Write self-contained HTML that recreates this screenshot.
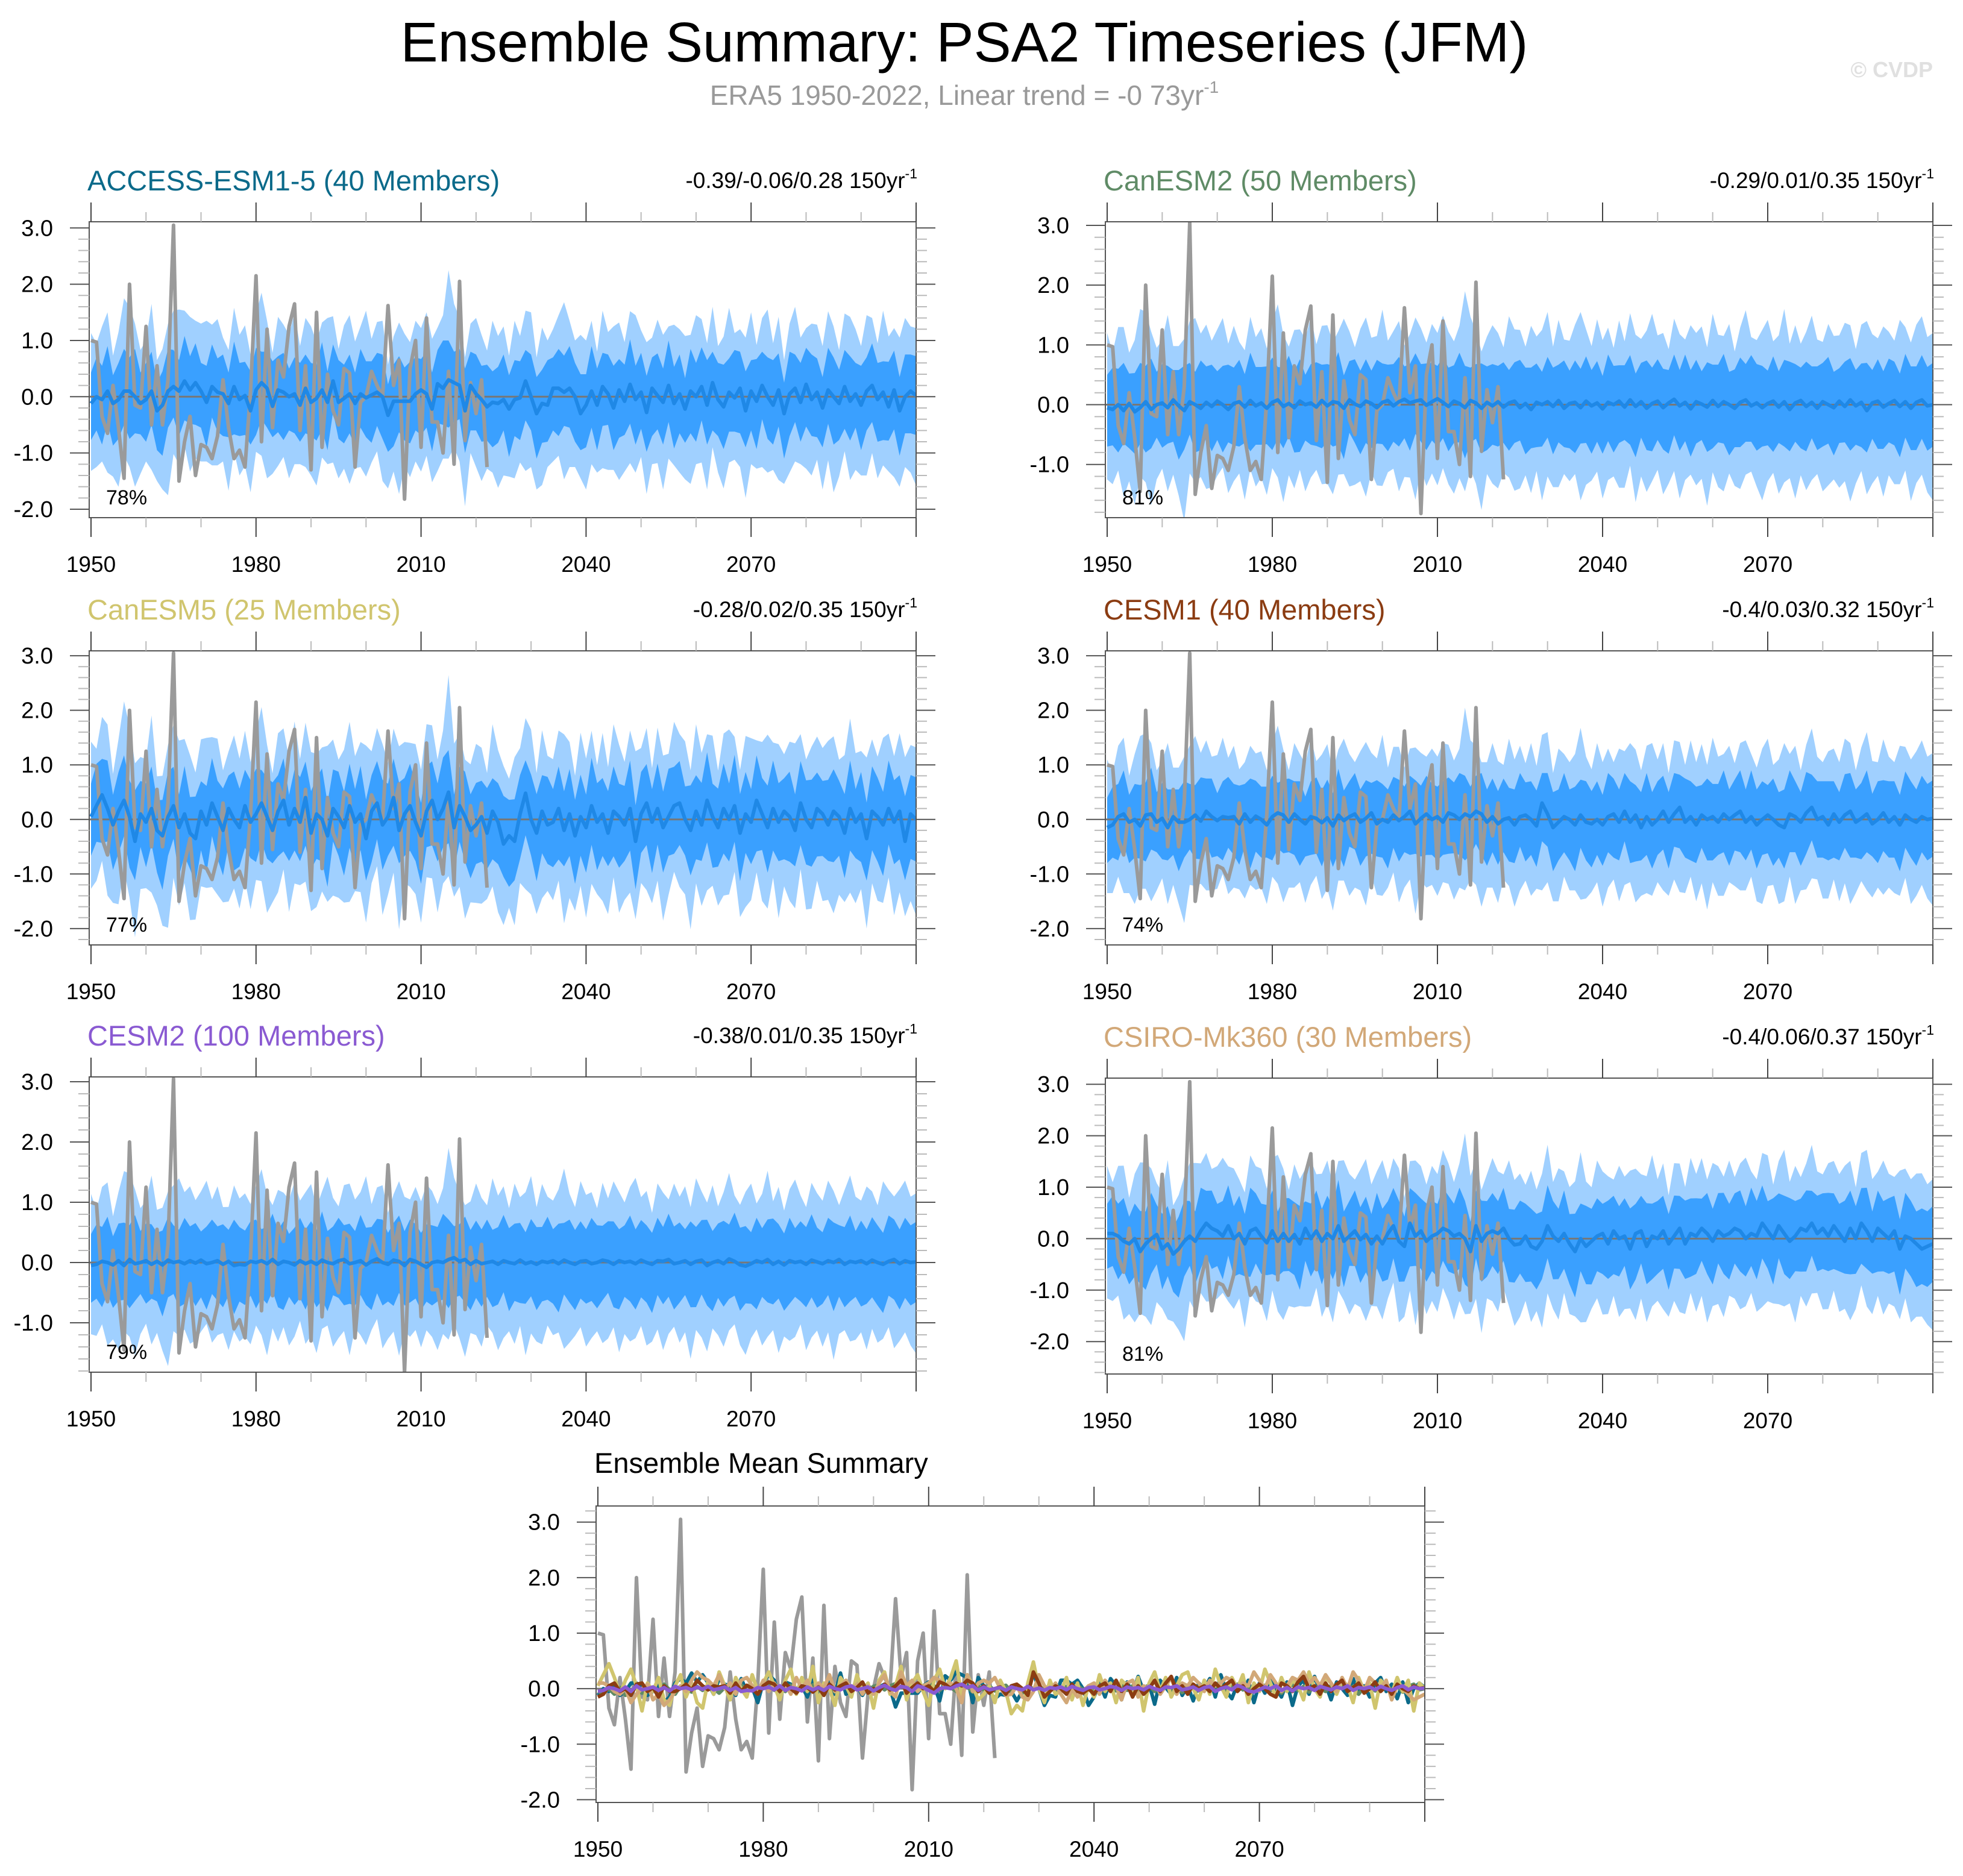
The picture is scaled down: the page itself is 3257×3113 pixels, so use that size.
<!DOCTYPE html>
<html><head><meta charset="utf-8"><title>Ensemble Summary: PSA2 Timeseries (JFM)</title>
<style>
html,body{margin:0;padding:0;background:#fff;}
svg{display:block;font-family:"Liberation Sans",Arial,sans-serif;}
</style></head>
<body>
<svg id="chart" width="3257" height="3113" viewBox="0 0 3257 3113" xmlns="http://www.w3.org/2000/svg">
<rect x="0" y="0" width="3257" height="3113" fill="#fff"/>
<text x="1600" y="102" font-size="93" text-anchor="middle" fill="#000">Ensemble Summary: PSA2 Timeseries (JFM)</text>
<text x="1600" y="174" font-size="46" text-anchor="middle" fill="#999">ERA5 1950-2022, Linear trend = -0 73yr<tspan font-size="28" dy="-20">-1</tspan></text>
<text x="3207" y="128" font-size="36" font-weight="bold" text-anchor="end" fill="#e0e0e0">© CVDP</text>
<g id="panels"></g>
</svg>
<script>
const years0 = 1950;
const obsValues = [1.0,0.97,-0.35,-0.65,0.2,-0.55,-1.45,2.0,-0.15,-0.2,
1.25,-0.5,0.55,-0.5,0.3,3.05,-1.5,-0.8,-0.35,-1.4,
-0.85,-0.9,-1.1,-0.7,0.3,-0.55,-1.1,-0.95,-1.25,0.1,
2.15,-0.8,1.2,-0.55,0.65,0.35,1.25,1.65,-0.6,0.55,
-1.3,1.5,-0.9,0.4,-0.25,-0.5,0.5,0.42,-1.25,-0.1,
0.0,0.45,0.2,0.0,1.62,0.2,0.65,-1.82,0.5,1.0,
-0.9,1.4,-0.45,-0.45,-1.0,0.45,-1.2,2.05,-0.78,0.25,
-0.3,0.3,-1.25];

const outerHi = [1.25,0.95,1.30,1.40,0.85,1.20,1.65,1.50,1.30,0.95,
1.05,1.55,0.90,1.00,1.20,1.35,1.45,1.25,1.30,1.10,
1.20,1.45,1.10,1.30,1.00,0.95,1.40,1.15,1.25,1.00,
1.35,1.60,1.20,0.95,1.30,1.20,1.10,1.45,1.05,1.25,
1.35,1.00,1.20,1.50,1.15,0.95,1.30,1.40,1.10,1.20,
1.55,1.00,1.25,1.35,0.90,1.15,1.40,1.20,1.05,1.30,
1.10,1.45,1.25,1.00,1.30,1.95,1.40,1.20,0.95,1.10,
1.35,1.15,1.00,1.45,1.20,1.30,0.95,1.40,1.10,1.25,
1.50,1.00,1.35,1.15,1.05,1.30,1.60,1.20,1.00,1.40,
1.15,1.25,0.95,1.35,1.10,1.45,1.20,1.05,1.30,1.50,
1.10,1.25,0.90,1.35,1.20,1.05,1.40,1.15,1.30,1.00,
1.45,1.20,1.10,1.35,0.95,1.25,1.50,1.15,1.05,1.30,
1.40,1.00,1.20,1.55,1.10,1.30,0.95,1.25,1.45,1.15,
1.00,1.35,1.20,1.10,1.40,1.25,0.95,1.30,1.50,1.15,
1.05,1.35,1.20,1.00,1.45,1.25,1.10,1.30,1.40,1.15,1.20];
const outerLo = [1.20,1.25,1.10,1.45,1.30,1.55,1.15,1.35,1.60,1.25,
1.10,1.40,1.25,1.50,1.85,1.20,1.30,1.15,1.45,1.35,
1.25,1.05,1.40,1.30,1.20,1.55,1.15,1.35,1.25,1.45,
1.10,1.30,1.60,1.20,1.35,1.15,1.45,1.25,1.05,1.40,
1.30,1.55,1.20,1.10,1.45,1.35,1.25,1.60,1.15,1.30,
1.40,1.20,1.05,1.50,1.30,1.25,1.65,1.15,1.35,1.20,
1.45,1.10,1.30,1.55,1.25,1.40,1.15,1.35,1.70,1.20,
1.30,1.45,1.10,1.25,1.50,1.35,1.20,1.40,1.15,1.60,
1.25,1.35,1.45,1.10,1.30,1.20,1.55,1.40,1.25,1.15,
1.50,1.30,1.20,1.45,1.35,1.10,1.60,1.25,1.40,1.30,
1.15,1.45,1.35,1.20,1.55,1.30,1.10,1.40,1.25,1.65,
1.20,1.35,1.50,1.15,1.30,1.45,1.25,1.10,1.40,1.55,
1.30,1.20,1.45,1.35,1.15,1.60,1.25,1.40,1.30,1.10,
1.50,1.35,1.20,1.45,1.25,1.70,1.30,1.15,1.40,1.35,
1.25,1.50,1.20,1.40,1.30,1.15,1.55,1.35,1.25,1.45,1.60];
const innerHi = [0.55,0.70,0.60,0.80,0.50,0.65,0.75,0.60,0.85,0.55,
0.65,0.70,0.50,0.60,0.75,0.65,0.55,0.80,0.60,0.70,
0.50,0.65,0.75,0.60,0.70,0.55,0.80,0.65,0.60,0.70,
0.75,0.55,0.65,0.80,0.60,0.70,0.50,0.65,0.75,0.60,
0.70,0.60,0.85,0.55,0.65,0.75,0.60,0.70,0.55,0.80,
0.65,0.60,0.70,0.75,0.55,0.65,0.80,0.60,0.70,0.65,
0.55,0.75,0.65,0.60,0.85,0.70,0.55,0.65,0.75,0.60,
0.70,0.60,0.75,0.55,0.65,0.80,0.60,0.70,0.65,0.55,
0.75,0.65,0.60,0.80,0.55,0.70,0.65,0.75,0.60,0.70,
0.55,0.80,0.65,0.60,0.70,0.75,0.55,0.65,0.80,0.60,
0.70,0.65,0.55,0.75,0.60,0.80,0.65,0.70,0.55,0.75,
0.60,0.70,0.80,0.55,0.65,0.75,0.60,0.85,0.65,0.70,
0.55,0.75,0.60,0.70,0.80,0.65,0.55,0.75,0.60,0.70,
0.65,0.80,0.60,0.55,0.75,0.70,0.60,0.65,0.80,0.55,
0.70,0.60,0.75,0.65,0.55,0.80,0.70,0.60,0.75,0.65,0.70];
const innerLo = [0.65,0.60,0.80,0.55,0.75,0.70,0.60,0.85,0.65,0.55,
0.75,0.60,0.70,0.90,0.65,0.55,0.80,0.70,0.60,0.75,
0.65,0.80,0.55,0.70,0.75,0.60,0.85,0.65,0.70,0.60,
0.80,0.65,0.70,0.55,0.75,0.85,0.60,0.70,0.65,0.80,
0.60,0.75,0.70,0.85,0.55,0.65,0.80,0.70,0.75,0.60,
0.70,0.85,0.60,0.75,0.65,0.80,0.55,0.70,0.75,0.65,
0.80,0.60,0.75,0.70,0.65,0.85,0.70,0.60,0.75,0.80,
0.65,0.75,0.60,0.80,0.70,0.55,0.85,0.65,0.75,0.70,
0.60,0.80,0.70,0.65,0.75,0.85,0.60,0.70,0.80,0.65,
0.75,0.65,0.80,0.70,0.55,0.75,0.85,0.60,0.70,0.80,
0.65,0.70,0.85,0.60,0.75,0.65,0.80,0.70,0.60,0.75,
0.80,0.60,0.70,0.85,0.65,0.75,0.70,0.60,0.80,0.65,
0.70,0.85,0.60,0.75,0.70,0.65,0.80,0.75,0.60,0.70,
0.75,0.65,0.80,0.70,0.60,0.85,0.65,0.75,0.70,0.60,
0.80,0.70,0.65,0.75,0.85,0.60,0.70,0.80,0.65,0.75,0.70];

const accessMean = [-0.12,0.00,-0.05,0.10,-0.12,-0.05,0.10,0.10,0.00,-0.12,
-0.05,0.10,-0.25,-0.15,0.10,0.18,0.10,0.28,0.12,0.25,
0.10,-0.10,0.18,0.08,0.05,-0.12,0.18,-0.05,0.02,-0.25,
0.12,0.25,0.15,-0.17,0.12,0.08,0.00,0.05,-0.15,0.15,
-0.10,-0.03,0.12,-0.10,0.28,-0.10,-0.03,0.05,-0.12,0.05,
-0.02,0.03,0.08,0.00,-0.33,-0.08,-0.08,-0.08,-0.08,0.05,
0.12,0.05,-0.22,0.23,0.15,0.30,0.25,0.20,-0.25,0.20,
0.05,-0.05,-0.18,-0.10,-0.12,-0.05,-0.22,-0.05,-0.02,0.28,
0.00,-0.30,-0.12,-0.15,0.15,0.15,0.08,0.15,0.00,-0.30,
-0.15,0.10,-0.15,0.18,0.05,-0.20,0.12,-0.08,0.22,-0.05,
0.08,-0.28,0.15,0.02,-0.10,0.20,-0.12,0.05,-0.22,0.10,
0.00,0.18,-0.15,0.25,-0.05,-0.18,0.08,-0.02,0.15,-0.25,
0.10,-0.08,0.20,0.00,-0.15,0.12,-0.30,0.05,0.15,-0.10,
0.22,-0.05,0.08,-0.20,0.12,0.00,-0.12,0.18,-0.08,0.05,
-0.15,0.10,0.20,-0.05,0.08,-0.18,0.12,-0.25,0.00,0.10,0.02];
const canesm2Mean = [-0.05,-0.08,0.00,-0.10,0.02,-0.12,-0.05,0.05,-0.08,0.00,
0.03,-0.05,0.08,-0.02,-0.10,0.05,0.00,-0.06,0.04,-0.03,
0.06,0.00,-0.08,0.02,0.05,-0.04,0.07,-0.02,0.03,-0.06,
0.04,0.08,-0.03,0.02,-0.05,0.06,0.00,0.03,-0.04,0.07,
-0.02,0.05,0.03,-0.06,0.08,0.01,-0.03,0.06,0.02,-0.05,
0.04,0.07,-0.02,0.05,0.09,0.03,0.06,0.08,-0.01,0.05,
0.10,0.04,-0.03,0.06,0.02,-0.05,0.07,0.03,-0.06,0.04,
-0.02,0.05,-0.04,0.03,0.06,-0.05,0.02,-0.08,0.04,0.00,
0.05,-0.03,0.07,-0.06,0.02,0.04,-0.05,0.06,-0.02,0.03,
-0.07,0.04,0.00,0.06,-0.04,0.08,-0.03,0.05,-0.06,0.02,
0.06,-0.05,0.03,0.09,-0.02,0.04,-0.07,0.05,0.01,-0.04,
0.07,-0.03,0.05,0.00,-0.06,0.04,0.08,-0.02,0.03,-0.05,
0.02,0.06,-0.04,0.05,-0.08,0.03,0.07,-0.03,0.04,-0.06,
0.05,0.00,-0.05,0.06,-0.03,0.08,-0.02,0.04,-0.10,0.03,
0.06,-0.04,0.02,0.07,-0.03,0.05,-0.06,0.04,0.08,-0.02,0.00];
const canesm5Mean = [0.05,0.25,0.45,0.20,-0.10,0.15,0.35,0.05,-0.40,0.10,
-0.05,0.20,-0.20,-0.30,0.05,0.25,-0.15,0.10,-0.25,-0.35,
0.15,-0.10,0.30,0.05,-0.20,0.20,0.00,-0.15,0.25,-0.05,
0.10,0.30,0.05,-0.20,0.15,0.35,-0.10,0.20,-0.05,0.40,
-0.25,0.10,0.00,-0.30,0.20,0.05,-0.15,0.25,-0.05,0.10,
-0.35,0.15,0.30,-0.10,0.05,0.40,-0.20,0.10,0.25,-0.05,
-0.30,0.15,0.35,0.00,0.20,0.50,-0.15,0.25,0.05,-0.20,
-0.10,0.05,-0.25,0.15,-0.05,-0.45,-0.30,-0.40,0.10,0.48,
0.00,-0.25,0.15,-0.10,-0.05,0.20,-0.20,0.10,-0.30,0.05,
-0.15,0.25,-0.05,0.10,-0.25,0.15,0.05,-0.10,0.20,-0.40,
0.10,0.30,-0.05,0.20,-0.15,0.05,0.25,0.30,0.00,-0.20,
0.15,-0.10,0.35,0.05,-0.15,0.20,0.00,0.25,-0.25,0.10,
-0.05,0.35,0.10,-0.15,0.20,-0.05,0.15,0.05,-0.20,0.30,
0.00,-0.15,0.20,0.10,-0.10,0.15,0.05,-0.25,0.20,-0.05,
0.10,-0.35,0.15,0.05,-0.10,0.20,-0.05,0.15,-0.40,0.10,0.00];
const cesm1Mean = [-0.15,-0.10,0.05,0.10,-0.05,0.00,-0.12,0.08,0.10,-0.05,
0.02,-0.15,0.05,-0.05,-0.05,0.00,0.08,-0.03,0.15,0.05,
-0.02,0.05,0.03,0.05,-0.08,0.10,-0.05,0.06,0.00,-0.10,
0.05,0.12,0.08,-0.05,0.10,0.00,-0.08,0.05,0.02,-0.06,
0.03,-0.12,0.08,-0.02,0.05,0.10,-0.05,0.02,0.12,-0.08,
0.00,-0.05,0.08,-0.02,0.05,0.15,-0.08,0.02,0.10,0.00,
0.05,-0.05,0.12,0.08,0.00,0.10,0.05,0.15,0.10,-0.05,
0.05,-0.08,0.00,0.03,-0.10,0.05,0.08,0.00,-0.12,0.30,
0.10,-0.15,-0.05,0.05,0.00,-0.10,0.08,-0.05,-0.08,0.00,
-0.10,0.05,0.10,-0.05,0.15,-0.05,0.08,-0.15,0.05,-0.10,
0.00,0.15,-0.05,0.10,0.22,-0.05,0.05,-0.10,0.08,0.00,
0.05,-0.05,0.10,0.00,0.08,0.15,-0.05,0.05,-0.10,0.00,
0.08,0.00,-0.10,-0.15,0.10,0.05,-0.05,0.12,0.22,0.00,
0.05,-0.10,0.10,-0.05,0.08,0.15,-0.05,0.02,0.10,-0.08,
0.00,0.12,-0.05,0.05,-0.10,0.08,0.00,-0.05,0.05,0.00,0.02];
const cesm2Mean = [-0.05,-0.03,0.02,0.00,-0.04,0.03,-0.05,0.05,-0.02,0.00,
0.03,-0.03,0.02,-0.04,0.04,0.00,0.02,-0.02,0.03,-0.01,
0.04,-0.02,0.00,0.03,-0.03,0.02,-0.05,-0.03,-0.04,0.02,
0.00,0.03,-0.02,0.05,-0.03,0.02,0.00,-0.04,0.03,-0.02,
0.02,-0.03,0.04,0.00,-0.02,0.03,0.05,-0.02,0.00,0.03,
-0.04,0.02,0.06,0.00,-0.03,0.04,0.02,-0.05,0.05,0.02,
-0.03,-0.08,0.00,0.02,0.00,0.05,0.08,0.02,0.05,-0.03,
0.03,-0.02,0.00,0.02,-0.03,0.03,0.00,-0.02,0.04,-0.02,
0.01,-0.03,0.02,0.00,0.03,-0.02,0.04,0.00,-0.03,0.02,
0.03,-0.02,0.00,0.04,0.02,-0.03,0.03,0.00,0.02,-0.02,
0.04,0.00,-0.03,0.03,0.02,0.05,-0.02,0.00,0.03,-0.03,
0.02,0.04,-0.05,0.00,0.03,-0.02,0.06,0.02,-0.04,-0.06,
-0.02,0.03,0.00,0.05,-0.03,0.02,-0.04,0.03,0.00,0.02,
-0.03,0.04,0.01,-0.02,0.03,0.00,0.05,-0.03,0.02,0.00,
0.03,-0.02,0.04,0.00,-0.03,0.02,0.05,-0.02,0.03,0.00,0.01];
const csiroMean = [0.10,0.10,0.05,-0.05,-0.10,0.00,-0.25,-0.10,0.00,0.08,
-0.20,-0.10,-0.30,-0.20,-0.05,0.05,-0.05,0.15,0.30,0.20,
0.15,0.05,0.25,0.00,0.10,-0.10,0.15,0.20,0.05,-0.08,
0.15,-0.05,0.10,-0.05,0.08,-0.10,0.20,0.00,0.15,-0.05,
0.10,0.00,0.25,-0.05,0.05,0.15,-0.02,0.08,-0.10,0.05,
-0.10,0.10,0.25,-0.05,-0.15,0.30,0.05,0.15,-0.05,0.05,
0.10,0.20,0.15,0.05,0.10,0.00,-0.25,0.25,-0.05,0.10,
0.15,0.10,0.20,0.00,-0.12,-0.10,0.05,-0.15,-0.20,-0.05,
0.25,0.05,-0.05,0.10,-0.10,-0.25,0.00,-0.15,-0.05,0.05,
0.10,-0.10,0.15,0.00,0.05,-0.20,0.10,0.15,-0.15,0.05,
0.00,0.15,-0.10,0.05,0.20,-0.10,0.10,0.05,0.20,0.10,
-0.05,0.15,0.05,0.10,0.20,0.15,0.00,0.10,0.05,0.30,
0.15,0.00,0.25,0.10,-0.05,0.05,0.20,0.15,0.30,0.10,
0.20,0.05,0.25,0.10,-0.05,0.20,0.00,0.30,0.15,-0.05,
0.20,0.10,0.00,0.15,-0.20,0.05,0.00,-0.10,-0.20,-0.15,-0.10];

const modelNames = ["ACCESS-ESM1-5 (40 Members)","CanESM2 (50 Members)","CanESM5 (25 Members)","CESM1 (40 Members)","CESM2 (100 Members)","CSIRO-Mk360 (30 Members)"];
const modelColors = ["#0b6a8a","#5f8b66","#d0c56e","#8b3c12","#8a5ad2","#d2a878"];
const trendLabels = ["-0.39/-0.06/0.28 150yr","-0.29/0.01/0.35 150yr","-0.28/0.02/0.35 150yr","-0.4/0.03/0.32 150yr","-0.38/0.01/0.35 150yr","-0.4/0.06/0.37 150yr"];
const pctLabels = ["78%","81%","77%","74%","79%","81%"];
const spreadScale = [1.0,1.0,1.1,1.0,0.95,1.05];
const yTickLabels = [-2,-1,0,1,2,3];
const xTickYears = [1950,1980,2010,2040,2070];

const means = [accessMean,canesm2Mean,canesm5Mean,cesm1Mean,cesm2Mean,csiroMean];
const NS = "http://www.w3.org/2000/svg";
const root = document.getElementById("panels");
function mk(tag, attrs, parent){const e=document.createElementNS(NS,tag);for(const k in attrs)e.setAttribute(k,attrs[k]);(parent||root).appendChild(e);return e;}

const L = [
 {x:148,y:368,w:1372,h:491,ymin:-2.15,ymax:3.11},
 {x:1834,y:368,w:1373,h:491,ymin:-1.89,ymax:3.06},
 {x:148,y:1080,w:1372,h:488,ymin:-2.3,ymax:3.09},
 {x:1834,y:1080,w:1373,h:488,ymin:-2.3,ymax:3.09},
 {x:148,y:1787,w:1372,h:490,ymin:-1.82,ymax:3.08},
 {x:1834,y:1789,w:1373,h:491,ymin:-2.63,ymax:3.12}
];
const B = {x:989,y:2499,w:1375,h:492,ymin:-2.05,ymax:3.29};

function axes(p){
  const sx = yr => p.x + 3 + (yr-1950)/150*(p.w-3);
  const sy = v => p.y + (p.ymax - v)/(p.ymax-p.ymin)*p.h;
  return {sx,sy};
}

function drawFrame(p, g, A){
  for(let yr=1950; yr<=2100; yr+=10){
    const major = (yr-1950)%30===0;
    const X = A.sx(yr);
    const len = major?32:16;
    const t1 = mk("line",{x1:X,y1:p.y,x2:X,y2:p.y-len,stroke:major?"#444":"#bbb","stroke-width":2},g);
    
    
    const t2 = mk("line",{x1:X,y1:p.y+p.h,x2:X,y2:p.y+p.h+len,stroke:major?"#444":"#bbb","stroke-width":2},g);
    
    
  }
  xTickYears.forEach(yr=>{
    const t = mk("text",{x:A.sx(yr),y:p.y+p.h+90,"font-size":37,"text-anchor":"middle",fill:"#000"},g);
    t.textContent = yr;
    
    
  });
  for(let k=Math.ceil(p.ymin*5); k<=Math.floor(p.ymax*5); k++){
    const v = k/5; const Y = A.sy(v);
    const major = k%5===0;
    const len = major?32:18;
    const a = mk("line",{x1:p.x,y1:Y,x2:p.x-len,y2:Y,stroke:major?"#555":"#bbb","stroke-width":2},g);
    
    
    const b = mk("line",{x1:p.x+p.w,y1:Y,x2:p.x+p.w+len,y2:Y,stroke:major?"#555":"#bbb","stroke-width":2},g);
    
    
  }
  yTickLabels.forEach(v=>{
    if(v<p.ymin||v>p.ymax) return;
    const t = mk("text",{x:p.x-60,y:A.sy(v)+13,"font-size":38,"text-anchor":"end",fill:"#000"},g);
    t.textContent = v.toFixed(1);
    
    
  });
}

function linePath(arr, A){
  let d="";
  arr.forEach((v,i)=>{d += (i?"L":"M")+A.sx(years0+i).toFixed(1)+","+A.sy(v).toFixed(1);});
  return d;
}
function bandPath(mean, hi, lo, s, A){
  let up="", dn="";
  for(let i=0;i<mean.length;i++){
    up += (i?"L":"M")+A.sx(years0+i).toFixed(1)+","+A.sy(mean[i]+hi[i]*s).toFixed(1);
  }
  for(let i=mean.length-1;i>=0;i--){
    dn += "L"+A.sx(years0+i).toFixed(1)+","+A.sy(mean[i]-lo[i]*s).toFixed(1);
  }
  return up+dn+"Z";
}

L.forEach((p,i)=>{
  const g = mk("g",{});
  
  
  const A = axes(p);
  const clip = mk("clipPath",{id:"clip"+i},g);
  mk("rect",{x:p.x,y:p.y,width:p.w,height:p.h},clip);
  const tt = mk("text",{x:p.x-3,y:p.y-52,"font-size":47,fill:modelColors[i]},g);
  tt.textContent = modelNames[i];
  
  
  const tr = mk("text",{x:p.x+p.w+2,y:p.y-56,"font-size":37,"text-anchor":"end",fill:"#000"},g);
  tr.textContent = trendLabels[i];
  const sup = mk("tspan",{"font-size":23,dy:-16},tr);
  sup.textContent = "-1";
  
  
  const cg = mk("g",{"clip-path":"url(#clip"+i+")"},g);
  const m = means[i], s = spreadScale[i];
  const ob = mk("path",{d:bandPath(m,outerHi,outerLo,s,A),fill:"#a0d0ff"},cg);
  
  
  const ib = mk("path",{d:bandPath(m,innerHi,innerLo,s,A),fill:"#3aa0ff"},cg);
  
  
  const z = mk("line",{x1:p.x,x2:p.x+p.w,y1:A.sy(0),y2:A.sy(0),stroke:"#777","stroke-width":3},cg);
  
  
  const ol = mk("path",{d:linePath(obsValues,A),fill:"none",stroke:"#9a9a9a","stroke-width":6,"stroke-linejoin":"round"},cg);
  
  
  const ml = mk("path",{d:linePath(m,A),fill:"none",stroke:"#1f88e6","stroke-width":6,"stroke-linejoin":"round"},cg);
  
  
  const pc = mk("text",{x:p.x+28,y:p.y+p.h-22,"font-size":34,fill:"#000"},g);
  pc.textContent = pctLabels[i];
  
  
  const fr = mk("rect",{x:p.x,y:p.y,width:p.w,height:p.h,fill:"none",stroke:"#555","stroke-width":2},g);
  
  
  drawFrame(p,g,A);
});

(function(){
  const p = B;
  const g = mk("g",{});
  
  
  const A = axes(p);
  const clip = mk("clipPath",{id:"clipB"},g);
  mk("rect",{x:p.x,y:p.y,width:p.w,height:p.h},clip);
  const tt = mk("text",{x:p.x-3,y:p.y-55,"font-size":47,fill:"#000"},g);
  tt.textContent = "Ensemble Mean Summary";
  
  
  const cg = mk("g",{"clip-path":"url(#clipB)"},g);
  const z = mk("line",{x1:p.x,x2:p.x+p.w,y1:A.sy(0),y2:A.sy(0),stroke:"#777","stroke-width":3},cg);
  
  
  const ol = mk("path",{d:linePath(obsValues,A),fill:"none",stroke:"#9a9a9a","stroke-width":6,"stroke-linejoin":"round"},cg);
  
  
  [0,1,2,5,3,4].forEach(i=>{
    const l = mk("path",{d:linePath(means[i],A),fill:"none",stroke:modelColors[i],"stroke-width":6,"stroke-linejoin":"round"},cg);
    
    
  });
  const fr = mk("rect",{x:p.x,y:p.y,width:p.w,height:p.h,fill:"none",stroke:"#555","stroke-width":2},g);
  
  
  drawFrame(p,g,A);
})();
</script>
</body></html>
